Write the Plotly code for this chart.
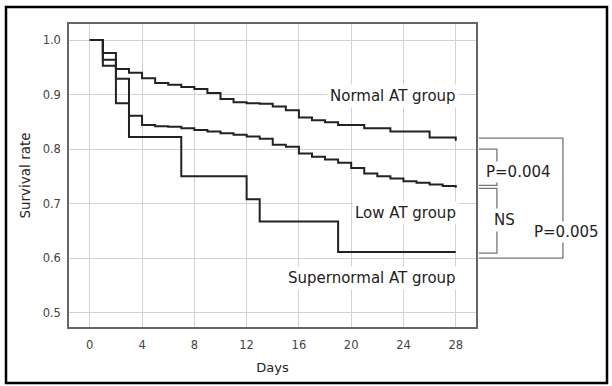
import plotly.graph_objects as go

# ---- data ----
days = list(range(29))
normal_at = [1.0, 0.976, 0.947, 0.940, 0.930, 0.921, 0.918, 0.914, 0.910, 0.903,
             0.892, 0.886, 0.884, 0.883, 0.878, 0.871, 0.858, 0.853, 0.849, 0.844,
             0.844, 0.838, 0.838, 0.832, 0.832, 0.832, 0.821, 0.821, 0.815]
low_at = [1.0, 0.964, 0.929, 0.861, 0.844, 0.842, 0.841, 0.838, 0.835, 0.832,
          0.829, 0.826, 0.823, 0.819, 0.808, 0.804, 0.792, 0.786, 0.781, 0.775,
          0.765, 0.755, 0.750, 0.746, 0.741, 0.738, 0.735, 0.732, 0.729]
super_days = [0, 1, 2, 3, 7, 12, 13, 19, 28]
super_at = [1.0, 0.953, 0.884, 0.822, 0.750, 0.708, 0.667, 0.611, 0.611]

group_labels = ["Normal AT group", "Low AT group", "Supernormal AT group"]
label_y = [0.898, 0.682, 0.5625]
x_ticks = [0, 4, 8, 12, 16, 20, 24, 28]
y_ticks = [0.5, 0.6, 0.7, 0.8, 0.9, 1.0]

XR = [-1.59, 29.55]
YR = [0.4735, 1.0294]

FONT = "DejaVu Sans"
LINE = "#222222"

fig = go.Figure()
for xs, ys in [(days, normal_at), (days, low_at), (super_days, super_at)]:
    fig.add_trace(go.Scatter(x=xs, y=ys, mode="lines", line=dict(color=LINE, width=2, shape="hv"),
                             showlegend=False, hoverinfo="skip"))

for txt, yv in zip(group_labels, label_y):
    fig.add_annotation(x=28.25, y=yv, xref="x", yref="y", text=txt, showarrow=False,
                       xanchor="right", yanchor="middle", bgcolor="white", borderpad=2,
                       font=dict(family=FONT, size=15, color="#222"))


def px(d):
    return (d - XR[0]) / (XR[1] - XR[0])


def py(v):
    return (v - YR[0]) / (YR[1] - YR[0])


BR = dict(color="#777777", width=1.3)
# outer bracket (Normal vs Supernormal)
x0, x1 = px(29.77), px(36.2)
yt, yb = py(0.820), py(0.600)
fig.add_shape(type="path", xref="paper", yref="paper",
              path=f"M{x0},{yt} L{x1},{yt} L{x1},{yb} L{x0},{yb}", line=BR)
# Normal vs Low bracket
xi = px(31.15)
fig.add_shape(type="path", xref="paper", yref="paper",
              path=f"M{x0},{py(0.800)} L{xi},{py(0.800)} L{xi},{py(0.7335)} L{x0},{py(0.7335)}", line=BR)
# Low vs Supernormal bracket
fig.add_shape(type="path", xref="paper", yref="paper",
              path=f"M{x0},{py(0.728)} L{xi},{py(0.728)} L{xi},{py(0.609)} L{x0},{py(0.609)}", line=BR)

ann_font = dict(family=FONT, size=15, color="#222")
fig.add_annotation(x=px(32.8), y=py(0.7585), xref="paper", yref="paper", text="P=0.004",
                   xanchor="center", yanchor="middle",
                   showarrow=False, bgcolor="white", borderpad=1, font=ann_font)
fig.add_annotation(x=px(31.7), y=py(0.6705), xref="paper", yref="paper", text="NS",
                   xanchor="center", yanchor="middle",
                   showarrow=False, bgcolor="white", borderpad=2, font=ann_font)
fig.add_annotation(x=px(36.45), y=py(0.6475), xref="paper", yref="paper", text="P=0.005",
                   xanchor="center", yanchor="middle",
                   showarrow=False, bgcolor="white", borderpad=1, font=ann_font)

# outer frame around the whole figure
fig.add_shape(type="rect", xref="paper", yref="paper",
              x0=(6 - 69) / 407, x1=(607 - 69) / 407, y0=(327 - 383) / 303, y1=(327 - 7) / 303,
              line=dict(color="black", width=2.5))

fig.update_xaxes(range=XR, tickvals=x_ticks, showgrid=True, gridcolor="#d2d2d2", gridwidth=1,
                 zeroline=False, showline=True, linecolor="#666", linewidth=1.5, mirror=True,
                 ticks="", ticklabelstandoff=6,
                 tickfont=dict(family=FONT, size=11.5, color="#444"),
                 title=dict(text="Days", standoff=12, font=dict(family=FONT, size=13, color="#222")))
fig.update_yaxes(range=YR, tickvals=y_ticks, tickformat=".1f", showgrid=True, gridcolor="#d2d2d2",
                 gridwidth=1, zeroline=False, showline=True, linecolor="#666", linewidth=1.5, mirror=True,
                 ticks="", ticklabelstandoff=4,
                 tickfont=dict(family=FONT, size=11.5, color="#444"),
                 title=dict(text="Survival rate", standoff=9, font=dict(family=FONT, size=13.5, color="#222")))

fig.update_layout(width=612, height=386, margin=dict(l=69, r=136, t=24, b=59),
                  paper_bgcolor="white", plot_bgcolor="white", showlegend=False)

fig.write_html("out.html", config={"displayModeBar": False})
